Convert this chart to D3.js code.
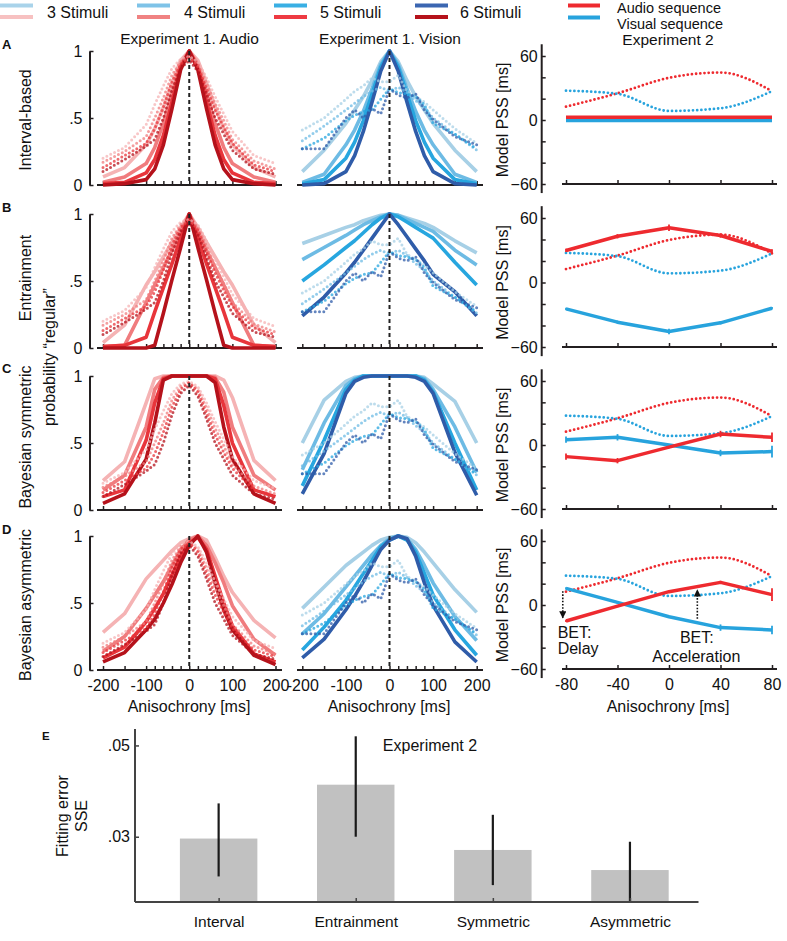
<!DOCTYPE html>
<html><head><meta charset="utf-8">
<script src="https://cdn.jsdelivr.net/npm/d3@7"></script>
<style>body{margin:0;background:#fff}svg{display:block}</style>
</head><body><svg id="c" width="787" height="941"></svg>
<script>
// ---------------- DATA ----------------
const anisochrony = [-200,-150,-100,-80,-60,-40,-20,0,20,40,60,80,100,150,200];
const anisoLabels = [-200,-100,0,100,200];
const stimulusLabels = ["3 Stimuli","4 Stimuli","5 Stimuli","6 Stimuli"];
const sequenceLabels = ["Audio sequence","Visual sequence"];
const rowLabels = ["Interval-based","Entrainment","Bayesian symmetric","Bayesian asymmetric"];
const panelLetters = ["A","B","C","D"];
const probTicks = [0,0.5,1];
const probTickLabels = ["0",".5","1"];

// Experiment 1 data (dotted), 3..6 stimuli
const audioData3 = [0.20,0.28,0.45,0.60,0.74,0.87,0.94,0.96,0.92,0.80,0.66,0.53,0.40,0.22,0.16];
const audioData4 = [0.17,0.25,0.36,0.50,0.65,0.82,0.92,0.95,0.90,0.76,0.61,0.48,0.34,0.18,0.12];
const audioData5 = [0.13,0.22,0.31,0.42,0.58,0.77,0.90,0.95,0.88,0.72,0.56,0.43,0.31,0.15,0.10];
const audioData6 = [0.10,0.19,0.29,0.34,0.50,0.71,0.87,0.93,0.85,0.68,0.50,0.38,0.26,0.12,0.08];
const visionData3 = [0.41,0.50,0.64,0.70,0.74,0.80,0.77,0.77,0.82,0.70,0.66,0.62,0.56,0.42,0.31];
const visionData4 = [0.33,0.44,0.56,0.61,0.66,0.70,0.73,0.70,0.73,0.69,0.63,0.58,0.50,0.38,0.26];
const visionData5 = [0.27,0.35,0.48,0.52,0.55,0.56,0.64,0.72,0.69,0.68,0.66,0.60,0.46,0.38,0.27];
const visionData6 = [0.27,0.27,0.50,0.56,0.50,0.57,0.53,0.72,0.67,0.65,0.68,0.56,0.49,0.36,0.30];

// Model A: interval-based
const intervalAudio = [
  [0.06,0.13,0.30,0.42,0.58,0.76,0.93,1,0.93,0.76,0.58,0.42,0.30,0.13,0.06],
  [0.02,0.06,0.16,0.28,0.46,0.68,0.90,1,0.90,0.68,0.46,0.28,0.16,0.06,0.02],
  [0.01,0.02,0.09,0.19,0.37,0.62,0.88,1,0.88,0.62,0.37,0.19,0.09,0.02,0.01],
  [0.00,0.01,0.04,0.12,0.30,0.57,0.86,1,0.86,0.57,0.30,0.12,0.04,0.01,0.00]];
const intervalVision = [
  [0.10,0.26,0.46,0.56,0.66,0.78,0.92,1,0.92,0.78,0.66,0.56,0.46,0.26,0.10],
  [0.02,0.08,0.30,0.41,0.55,0.72,0.90,1,0.90,0.72,0.55,0.41,0.30,0.08,0.02],
  [0.01,0.04,0.20,0.32,0.48,0.68,0.88,1,0.88,0.68,0.48,0.32,0.20,0.04,0.01],
  [0.00,0.01,0.10,0.22,0.40,0.62,0.85,1,0.85,0.62,0.40,0.22,0.10,0.01,0.00]];
// Model B: entrainment
const entrainAudio = [
  [0.04,0.17,0.47,0.57,0.68,0.79,0.90,1,0.90,0.79,0.68,0.57,0.47,0.17,0.04],
  [0.01,0.02,0.34,0.47,0.60,0.73,0.87,1,0.87,0.73,0.60,0.47,0.34,0.02,0.01],
  [0.01,0.02,0.08,0.27,0.45,0.63,0.82,1,0.82,0.63,0.45,0.27,0.08,0.02,0.01],
  [0.00,0.00,0.00,0.02,0.26,0.51,0.75,1,0.75,0.51,0.26,0.02,0.00,0.00,0.00]];
const entrainVision = [
  [0.78,0.84,0.90,0.92,0.95,0.97,0.99,1,0.99,0.97,0.95,0.93,0.90,0.80,0.71],
  [0.66,0.75,0.84,0.88,0.92,0.95,0.98,1,0.99,0.96,0.93,0.90,0.87,0.73,0.62],
  [0.50,0.62,0.75,0.80,0.86,0.92,0.97,1,0.98,0.94,0.90,0.86,0.82,0.64,0.47],
  [0.24,0.38,0.56,0.64,0.73,0.82,0.91,1,0.92,0.83,0.74,0.65,0.55,0.42,0.24]];
// Model C: Bayesian symmetric
const symAudio = [
  [0.22,0.36,0.80,0.98,1,1,1,1,1,1,1,0.97,0.84,0.37,0.22],
  [0.15,0.26,0.62,0.90,0.99,1,1,1,1,1,0.99,0.88,0.62,0.26,0.15],
  [0.10,0.15,0.52,0.80,0.98,1,1,1,1,1,0.98,0.78,0.50,0.15,0.10],
  [0.05,0.12,0.38,0.65,0.97,1,1,1,1,1,0.95,0.62,0.38,0.12,0.05]];
const symVision = [
  [0.50,0.82,0.96,0.99,1,1,1,1,1,1,1,0.99,0.94,0.81,0.50],
  [0.30,0.65,0.93,0.98,1,1,1,1,1,1,1,0.98,0.90,0.62,0.28],
  [0.18,0.52,0.90,0.97,1,1,1,1,1,1,1,0.97,0.88,0.50,0.15],
  [0.12,0.42,0.87,0.96,0.99,1,1,1,1,1,0.99,0.96,0.87,0.43,0.11]];
// Model D: Bayesian asymmetric
const asymAudio = [
  [0.28,0.42,0.68,0.75,0.82,0.89,0.95,0.98,1,0.97,0.84,0.70,0.58,0.37,0.24],
  [0.14,0.25,0.46,0.56,0.66,0.78,0.90,0.97,1,0.93,0.80,0.65,0.48,0.23,0.11],
  [0.09,0.17,0.36,0.46,0.57,0.71,0.85,0.95,0.99,0.90,0.70,0.50,0.33,0.12,0.06],
  [0.06,0.13,0.30,0.38,0.50,0.64,0.80,0.93,1,0.88,0.65,0.45,0.30,0.11,0.04]];
const asymVision = [
  [0.46,0.62,0.78,0.83,0.88,0.93,0.97,0.99,1,0.99,0.95,0.88,0.80,0.60,0.43],
  [0.27,0.42,0.62,0.70,0.78,0.86,0.93,0.98,1,0.98,0.90,0.78,0.65,0.40,0.22],
  [0.15,0.32,0.52,0.62,0.72,0.82,0.92,0.97,1,0.97,0.88,0.72,0.56,0.30,0.11],
  [0.09,0.23,0.45,0.55,0.66,0.78,0.90,0.97,1,0.98,0.85,0.65,0.48,0.21,0.06]];

// Experiment 2
const exp2Aniso = [-80,-40,0,40,80];
const exp2Ticks = [-60,-40,-20,0,20,40,60];
const exp2TickLabels = {"-60":"\u221260","0":"0","60":"60"};
const exp2AudioData = [12.5,25,39.5,44.5,27];
const exp2VisualData = [27.5,24.5,8.5,11,27];
const pssAudioModel = [[2.5,2.5,2.5,2.5,2.5],[29.8,43,50.9,43.7,29],[-10.9,-14.7,-2,10.3,7.2],[-15,-1,12.5,21.2,9.7]];
const pssVisualModel = [[-0.5,-0.5,-0.5,-0.5,-0.5],[-24.5,-36.9,-45.6,-37.5,-23.9],[5,7.2,0,-7.5,-6.2],[15.6,2.5,-11,-21.2,-23.4]];
const pssAudioErr = [[0,0,0,0,0],[1.5,2,3,2,2],[3,2.5,1,3,4.5],[1,1,1,1.5,6]];
const pssVisualErr = [[0,0,0,0,0],[1,1.5,2.5,1.5,1],[3,3,1,3,5.5],[1,1,1,3,4]];
// BET annotations (row D): x, from, to
const betX = [-82.5, 22];
const betFrom = [13, -13];
const betTo = [-12, 14];

// Panel E
const modelNames = ["Interval","Entrainment","Symmetric","Asymmetric"];
const sseMean = [0.0296,0.0414,0.0271,0.0227];
const sseLow  = [0.0213,0.0300,0.0194,0.0158];
const sseHigh = [0.0373,0.0520,0.0348,0.0289];
const sseTicks = [0.03,0.05];

// ---------------- STYLE ----------------
const F = '"Liberation Sans", Arial, Helvetica, sans-serif';
const AX = "#231f20";
const redCols  = ["#f5b3b4","#f07c7e","#e8353b","#b5121b"];
const blueCols = ["#a7d0e6","#6dbbe4","#27a6df","#2f5ca9"];
const legRed  = ["#f7c1c1","#f08282","#ee3a42","#b5121b"];
const legBlue = ["#a9d3ea","#7ec3e8","#39afe4","#3b66b1"];
const seqRed = "#ee2a2f", seqBlue = "#27a3dd";

const svg = d3.select("#c").attr("font-family", F);

// layout
const rowsLeft  = [{top:51,bot:185},{top:214,bot:348},{top:376,bot:510},{top:536,bot:670}];
const rowsRight = [{y60:56,ym60:184},{y60:218,ym60:347},{y60:381,ym60:509},{y60:541,ym60:669}];
const xAudio  = d3.scaleLinear().domain([-200,200]).range([103,275.5]);
const xVision = d3.scaleLinear().domain([-200,200]).range([302.3,476.7]);
const xExp2   = d3.scaleLinear().domain([-80,80]).range([566,772]);

function txt(g, x, y, s, size, opts={}) {
  const t = g.append("text").attr("x",x).attr("y",y).text(s)
    .attr("font-size",size).attr("fill","#111").attr("font-family",F);
  if (opts.anchor) t.attr("text-anchor",opts.anchor);
  if (opts.weight) t.attr("font-weight",opts.weight);
  if (opts.rot) t.attr("transform",`rotate(-90,${x},${y})`);
  return t;
}

// ---------------- LEGEND ----------------
const legSw = [0,137,274,415];
const legTx = [47,184,320,460];
stimulusLabels.forEach((s,i)=>{
  svg.append("line").attr("x1",legSw[i]).attr("x2",legSw[i]+33).attr("y1",5.5).attr("y2",5.5).attr("stroke",legBlue[i]).attr("stroke-width",4);
  svg.append("line").attr("x1",legSw[i]).attr("x2",legSw[i]+33).attr("y1",17).attr("y2",17).attr("stroke",legRed[i]).attr("stroke-width",4);
  txt(svg, legTx[i], 18, s, 16);
});
[seqRed, seqBlue].forEach((c,i)=>{
  svg.append("line").attr("x1",568).attr("x2",600).attr("y1",5.5+12*i).attr("y2",5.5+12*i).attr("stroke",c).attr("stroke-width",4);
  txt(svg, 617, 13+15.8*i, sequenceLabels[i], 14.5);
});

// ---------------- TITLES ----------------
txt(svg, 189.5, 44, "Experiment 1. Audio", 15.5, {anchor:"middle"});
txt(svg, 390, 44, "Experiment 1. Vision", 15.5, {anchor:"middle"});
txt(svg, 668, 45, "Experiment 2", 15.5, {anchor:"middle"});
const letterY = [49,212,373,534];
panelLetters.forEach((l,i)=> txt(svg, 2, letterY[i], l, 13, {weight:"bold"}));
const rowLabelY = [120,278,437,605];
rowLabels.forEach((l,i)=> txt(svg, 31, rowLabelY[i], l, 16, {anchor:"middle", rot:true}));
txt(svg, 55, 357, "probability \u201cregular\u201d", 16, {anchor:"middle", rot:true});

// ---------------- LEFT PANELS ----------------
const models = [
  [intervalAudio, intervalVision],
  [entrainAudio, entrainVision],
  [symAudio, symVision],
  [asymAudio, asymVision]];
const audioData = [audioData3,audioData4,audioData5,audioData6];
const visionData = [visionData3,visionData4,visionData5,visionData6];

function leftPanel(row, xs, axisRange, dataSets, modelSets, cols, showY) {
  const r = rowsLeft[row];
  const y = d3.scaleLinear().domain([0,1]).range([r.bot, r.top]);
  const g = svg.append("g");
  g.append("line").attr("x1",axisRange[0]).attr("x2",axisRange[1]).attr("y1",r.bot).attr("y2",r.bot)
    .attr("stroke",AX).attr("stroke-width",2);
  const showLabels = row === 3;
  const xa = d3.axisBottom(xs).tickValues(anisochrony).tickSizeInner(-4).tickSizeOuter(0).tickPadding(10)
    .tickFormat(d => showLabels && anisoLabels.includes(d) ? String(d) : "");
  const gx = g.append("g").attr("transform",`translate(0,${r.bot})`).call(xa);
  gx.select(".domain").remove();
  gx.selectAll(".tick line").attr("stroke",AX).attr("stroke-width",1.5);
  gx.selectAll("text").attr("font-size",16).attr("font-family",F).attr("fill","#111");
  if (showY) {
    const ya = d3.axisLeft(y).tickValues(probTicks).tickSizeInner(-4).tickSizeOuter(0).tickPadding(7)
      .tickFormat((d,i)=>probTickLabels[i]);
    const gy = g.append("g").attr("transform","translate(89.5,0)").call(ya);
    gy.select(".domain").attr("stroke",AX).attr("stroke-width",2);
    gy.selectAll(".tick line").attr("stroke",AX).attr("stroke-width",1.5);
    gy.selectAll("text").attr("font-size",16).attr("font-family",F).attr("fill","#111");
  }
  const line = d3.line().x((d,i)=>xs(anisochrony[i])).y(d=>y(d));
  modelSets.forEach((m,i)=> g.append("path").attr("d",line(m)).attr("fill","none")
    .attr("stroke",cols[i]).attr("stroke-width",3.6).attr("stroke-linejoin","round"));
  dataSets.forEach((m,i)=> g.append("path").attr("d",line(m)).attr("fill","none")
    .attr("stroke",cols[i]).attr("stroke-width",3).attr("stroke-linecap","round")
    .attr("stroke-dasharray","0 4.3").attr("opacity",0.75));
  g.append("line").attr("x1",xs(0)).attr("x2",xs(0)).attr("y1",y(1)).attr("y2",y(0))
    .attr("stroke","#222").attr("stroke-width",2).attr("stroke-dasharray","4,3");
}

// ---------------- RIGHT PANELS ----------------
const defs = svg.append("defs");
defs.append("marker").attr("id","ah").attr("viewBox","0 0 10 10").attr("refX",9).attr("refY",5)
  .attr("markerWidth",4.5).attr("markerHeight",4.5).attr("orient","auto")
  .append("path").attr("d","M0,0 L10,5 L0,10 z").attr("fill","#111");

function rightPanel(row) {
  const r = rowsRight[row];
  const y = d3.scaleLinear().domain([-60,60]).range([r.ym60, r.y60]);
  const g = svg.append("g");
  g.append("line").attr("x1",541.7).attr("x2",541.7).attr("y1",y(71)).attr("y2",y(-68.5))
    .attr("stroke",AX).attr("stroke-width",2);
  const ya = d3.axisLeft(y).tickValues(exp2Ticks).tickSizeInner(-4).tickSizeOuter(0).tickPadding(4)
    .tickFormat(d => exp2TickLabels[String(d)] || "");
  const gy = g.append("g").attr("transform","translate(541.7,0)").call(ya);
  gy.select(".domain").remove();
  gy.selectAll(".tick line").attr("stroke",AX).attr("stroke-width",1.5);
  gy.selectAll("text").attr("font-size",16).attr("font-family",F).attr("fill","#111");
  g.append("line").attr("x1",562).attr("x2",777).attr("y1",y(-60)).attr("y2",y(-60))
    .attr("stroke",AX).attr("stroke-width",2);
  const xa = d3.axisBottom(xExp2).tickValues(exp2Aniso).tickSizeInner(-4).tickSizeOuter(0).tickPadding(10)
    .tickFormat(d => row===3 ? String(d) : "");
  const gx = g.append("g").attr("transform",`translate(0,${y(-60)})`).call(xa);
  gx.select(".domain").remove();
  gx.selectAll(".tick line").attr("stroke",AX).attr("stroke-width",1.5);
  gx.selectAll("text").attr("font-size",16).attr("font-family",F).attr("fill","#111");
  txt(g, 508, (r.y60+r.ym60)/2, "Model PSS [ms]", 16, {anchor:"middle", rot:true});

  const dl = d3.line().x((d,i)=>xExp2(exp2Aniso[i])).y(d=>y(d)).curve(d3.curveMonotoneX);
  [[exp2AudioData,seqRed],[exp2VisualData,seqBlue]].forEach(([d,c])=>{
    g.append("path").attr("d",dl(d)).attr("fill","none").attr("stroke",c).attr("stroke-width",2.8)
      .attr("stroke-linecap","round").attr("stroke-dasharray","0 4.2");
  });
  const ml = d3.line().x((d,i)=>xExp2(exp2Aniso[i])).y(d=>y(d));
  [[pssVisualModel[row],pssVisualErr[row],seqBlue],[pssAudioModel[row],pssAudioErr[row],seqRed]].forEach(([d,e,c])=>{
    g.append("path").attr("d",ml(d)).attr("fill","none").attr("stroke",c).attr("stroke-width",3.5).attr("stroke-linejoin","round");
    d.forEach((v,i)=>{
      if (e[i] > 0) {
        g.append("line").attr("x1",xExp2(exp2Aniso[i])).attr("x2",xExp2(exp2Aniso[i]))
          .attr("y1",y(v-e[i])).attr("y2",y(v+e[i])).attr("stroke",c).attr("stroke-width",1.8);
      }
    });
  });
  if (row === 3) {
    betX.forEach((bx,i)=>{
      g.append("line").attr("x1",xExp2(bx)).attr("x2",xExp2(bx)).attr("y1",y(betFrom[i])).attr("y2",y(betTo[i]))
        .attr("stroke","#111").attr("stroke-width",1.6).attr("stroke-dasharray","1.6,1.6").attr("marker-end","url(#ah)");
    });
    txt(g, xExp2(-86.5), y(-31), "BET:", 16);
    txt(g, xExp2(-86.5), y(-46), "Delay", 16);
    txt(g, xExp2(8.5), y(-36), "BET:", 16);
    txt(g, xExp2(-13), y(-53), "Acceleration", 16);
  }
}

for (let row=0; row<4; row++) {
  leftPanel(row, xAudio, [97,282], audioData, models[row][0], redCols, true);
  leftPanel(row, xVision, [297,483], visionData, models[row][1], blueCols, false);
  rightPanel(row);
}
txt(svg, 189, 712, "Anisochrony [ms]", 16, {anchor:"middle"});
txt(svg, 389, 712, "Anisochrony [ms]", 16, {anchor:"middle"});
txt(svg, 668, 712, "Anisochrony [ms]", 16, {anchor:"middle"});

// ---------------- PANEL E ----------------
const xE = d3.scaleLinear().domain([0.39,4.5]).range([135,698.5]);
const yE = d3.scaleLinear().domain([0.0157,0.0536]).range([902,729]);
const gE = svg.append("g");
txt(gE, 42, 740, "E", 11.5, {weight:"bold"});
const barW = xE(1.565) - xE(1);
modelNames.forEach((n,i)=>{
  gE.append("rect").attr("x",xE(i+1)-barW/2).attr("width",barW)
    .attr("y",yE(sseMean[i])).attr("height",yE(0.0157)-yE(sseMean[i])).attr("fill","#c1c1c1");
});
modelNames.forEach((n,i)=>{
  gE.append("line").attr("x1",xE(i+1)).attr("x2",xE(i+1)).attr("y1",yE(sseLow[i])).attr("y2",yE(sseHigh[i]))
    .attr("stroke","#1a1a1a").attr("stroke-width",2.2);
});
gE.append("line").attr("x1",135).attr("x2",135).attr("y1",729).attr("y2",902).attr("stroke","#444").attr("stroke-width",2);
gE.append("line").attr("x1",135).attr("x2",698.5).attr("y1",902).attr("y2",902).attr("stroke","#444").attr("stroke-width",2);
const yaE = d3.axisLeft(yE).tickValues(sseTicks).tickSizeInner(-4).tickSizeOuter(0).tickPadding(5)
  .tickFormat(d => d3.format(".2f")(d).replace(/^0/,""));
const gyE = gE.append("g").attr("transform","translate(135,0)").call(yaE);
gyE.select(".domain").remove();
gyE.selectAll(".tick line").attr("stroke","#444").attr("stroke-width",1.5);
gyE.selectAll("text").attr("font-size",16).attr("font-family",F).attr("fill","#111");
const xaE = d3.axisBottom(xE).tickValues([1,2,3,4]).tickSizeInner(-4).tickSizeOuter(0).tickPadding(14)
  .tickFormat(d => modelNames[d-1]);
const gxE = gE.append("g").attr("transform","translate(0,902)").call(xaE);
gxE.select(".domain").remove();
gxE.selectAll(".tick line").attr("stroke","#444").attr("stroke-width",1.5);
gxE.selectAll("text").attr("font-size",15.5).attr("font-family",F).attr("fill","#111");
txt(gE, 430, 751, "Experiment 2", 16, {anchor:"middle"});
txt(gE, 68, 816, "Fitting error", 16, {anchor:"middle", rot:true});
txt(gE, 87, 816, "SSE", 16, {anchor:"middle", rot:true});
</script></body></html>
